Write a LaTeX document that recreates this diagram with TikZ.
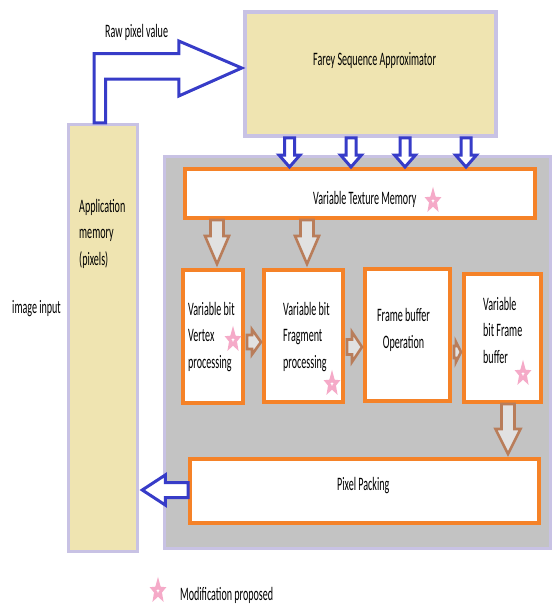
\documentclass[tikz,border=0pt]{standalone}
\usepackage{fontspec}
\setmainfont{Carlito}[FakeStretch=0.53]
\usetikzlibrary{calc,shapes.geometric}
\definecolor{beige}{RGB}{239,228,177}
\definecolor{lav}{RGB}{200,194,228}
\definecolor{panel}{RGB}{195,195,195}
\definecolor{orng}{RGB}{245,130,40}
\definecolor{blu}{RGB}{55,60,200}
\definecolor{brwn}{RGB}{185,125,90}
\definecolor{afill}{RGB}{225,225,225}
\definecolor{spink}{RGB}{245,170,200}
% down block arrow: style, top, bottom(tip), half shaft, half head, head length
\newcommand{\downblk}[6]{\draw[#1] ($(#2)+(-#4,0)$) -- ($(#3)+(-#4,-#6)$) -- ($(#3)+(-#5,-#6)$) -- (#3) -- ($(#3)+(#5,-#6)$) -- ($(#3)+(#4,-#6)$) -- ($(#2)+(#4,0)$) -- cycle;}
% right block arrow: style, left, right(tip), half shaft, half head, head length
\newcommand{\rightblk}[6]{\draw[#1] ($(#2)+(0,-#4)$) -- ($(#3)+(-#6,-#4)$) -- ($(#3)+(-#6,-#5)$) -- (#3) -- ($(#3)+(-#6,#5)$) -- ($(#3)+(-#6,#4)$) -- ($(#2)+(0,#4)$) -- cycle;}
% left block arrow: style, right, left(tip), half shaft, half head, head length
\newcommand{\leftblk}[6]{\draw[#1] ($(#2)+(0,-#4)$) -- ($(#3)+(#6,-#4)$) -- ($(#3)+(#6,-#5)$) -- (#3) -- ($(#3)+(#6,#5)$) -- ($(#3)+(#6,#4)$) -- ($(#2)+(0,#4)$) -- cycle;}
\begin{document}
\begin{tikzpicture}[x=1pt,y=-1pt,
  every node/.style={font=\fontsize{19}{26.5}\selectfont, inner sep=0pt},
  beigebox/.style={draw=lav, fill=beige, line width=3.5pt, rectangle},
  panelbox/.style={draw=lav, fill=panel, line width=2.5pt, rectangle},
  stagebox/.style={draw=orng, fill=white, line width=4pt, rectangle},
  bluearrow/.style={draw=blu, fill=white, line width=3pt, line join=miter},
  brownarrow/.style={draw=brwn, fill=afill, line width=2.6pt, line join=miter},
  modstar/.style={star, star points=5, star point ratio=2.3, draw=spink, fill=white, line width=3.2pt, minimum size=16pt, xscale=0.68, transform shape},
  txt/.style={anchor=base west, align=left},
  ctxt/.style={anchor=base, align=center}]
\useasboundingbox (0,0) rectangle (557,608);
\fill[white] (0,0) rectangle (557,608);

% boxes
\node[beigebox, minimum width=251pt, minimum height=124pt] (farey) at (370.5,74) {};
\node[beigebox, minimum width=69pt, minimum height=427pt] (app) at (103,338) {};
\node[panelbox, minimum width=386pt, minimum height=392pt] (panel) at (357.5,352.5) {};
\node[stagebox, minimum width=350pt, minimum height=49pt] (tex) at (360,193.5) {};
\node[stagebox, minimum width=60pt, minimum height=133pt] (vert) at (213,336.5) {};
\node[stagebox, minimum width=79pt, minimum height=132pt] (frag) at (303.5,336) {};
\node[stagebox, minimum width=85pt, minimum height=132pt] (fbo) at (407.5,335) {};
\node[stagebox, minimum width=77pt, minimum height=128pt] (vbfb) at (502.5,338) {};
\node[stagebox, minimum width=349pt, minimum height=64pt] (pix) at (364.5,491) {};

% texts (base = baseline of the last line)
\node[txt] (rawt) at (105,37) {Raw pixel value};
\node[txt] (fareyt) at (313,65) {Farey Sequence Approximator};
\node[txt] (appt) at (79,265) {Application\\memory\\(pixels)};
\node[txt] (imgt) at (12,313) {image input};
\node[txt] (text) at (313,204) {Variable Texture Memory};
\node[txt] (vertt) at (188,368) {Variable bit\\Vertex\\processing};
\node[txt] (fragt) at (283,368) {Variable bit\\Fragment\\processing};
\node[ctxt] (fbot) at (403.5,348) {Frame buffer\\Operation};
\node[txt] (vbfbt) at (483,363) {Variable\\bit Frame\\buffer};
\node[txt] (pixt) at (337,490) {Pixel Packing};
\node[txt] (legt) at (180,600) {Modification proposed};

% stars
\node[modstar] (s1) at (433,201) {};
\node[modstar] (s2) at (233,340) {};
\node[modstar] (s3) at (332,384) {};
\node[modstar] (s4) at (523,374) {};
\node[modstar] (s5) at (158,591) {};

% raw pixel L-shaped arrow
\coordinate (rawtip) at ($(farey.west)+(-1.5,-6)$);
\coordinate (rawbase) at (app.north);
\draw[bluearrow] ($(rawbase)+(-9,0)$) -- ($(rawbase |- rawtip)+(-9,-14.5)$)
  -- ($(rawtip)+(-63,-14.5)$) -- ($(rawtip)+(-63,-27)$) -- (rawtip)
  -- ($(rawtip)+(-63,28)$) -- ($(rawtip)+(-63,11)$)
  -- ($(rawbase |- rawtip)+(2.5,11)$) -- ($(rawbase)+(2.5,0)$) -- cycle;

% blue arrows farey -> texture
\foreach \n/\xx in {1/289.5,2/351,3/405,4/466}{
  \coordinate (bt\n) at (\xx,0);
  \downblk{bluearrow}{bt\n |- farey.south}{bt\n |- tex.north}{5}{10.5}{12}
}

% brown arrows texture -> vertex, fragment
\coordinate (c1) at (217,0);
\coordinate (c2) at (307,0);
\downblk{brownarrow}{c1 |- tex.south}{$(c1 |- vert.north)+(0,-4)$}{6.5}{12}{28}
\downblk{brownarrow}{c2 |- tex.south}{$(c2 |- frag.north)+(0,-4)$}{6.5}{12}{28}

% horizontal brown arrows
\coordinate (h1) at (0,342);
\coordinate (h2) at (0,347);
\coordinate (h3) at (0,352);
\rightblk{brownarrow}{$(h1 -| vert.east)+(2,0)$}{$(h1 -| frag.west)+(-1,0)$}{7}{12.5}{9}
\rightblk{brownarrow}{$(h2 -| frag.east)+(2,0)$}{$(h2 -| fbo.west)+(-1,0)$}{7.5}{15}{10}
\rightblk{brownarrow}{$(h3 -| fbo.east)+(2,0)$}{$(h3 -| vbfb.west)+(-1,0)$}{6}{10}{5}

% vbfb -> pixel packing
\coordinate (c3) at (508,0);
\downblk{brownarrow}{c3 |- vbfb.south}{$(c3 |- pix.north)+(0,-3)$}{6.5}{12.5}{25}

% pixel packing -> application memory
\coordinate (h4) at (0,490);
\leftblk{bluearrow}{h4 -| pix.west}{$(h4 -| app.east)+(3,0)$}{7.5}{15}{23}
\end{tikzpicture}
\end{document}
